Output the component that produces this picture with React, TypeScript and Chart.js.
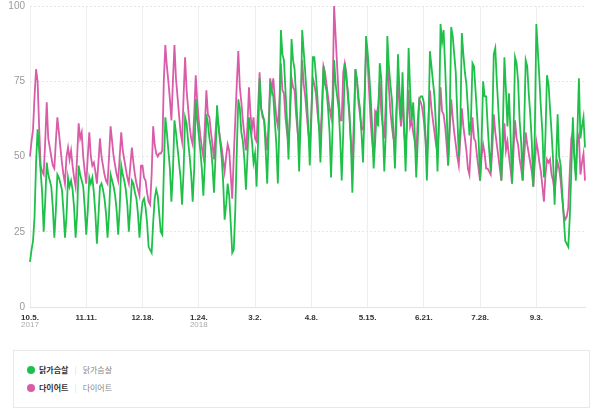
import React, { useEffect, useRef } from "react";
import { Chart, registerables } from "chart.js";

Chart.register(...registerables);

// x-axis tick labels (one every 37 days, starting 2017-10-05)
const tickLabels = ["10.5.", "11.11.", "12.18.", "1.24.", "3.2.", "4.8.", "5.15.", "6.21.", "7.28.", "9.3."];
const tickYears = ["2017", "", "", "2018", "", "", "", "", "", ""];
const tickStep = 37;
const yTicks = [0, 25, 50, 75, 100];

const seriesNames = ["닭가슴살", "다이어트"];
const seriesColors = ["#1fc04a", "#d85ca7"];

// 닭가슴살 — daily values, 2017-10-05 .. 2018-10-05
const chickenBreast = [
  15, 19, 22, 30,
  48, 59, 52, 45, 38, 25, 35,
  48, 44, 42, 40, 33, 23, 32,
  44, 43, 41, 39, 32, 23, 30,
  43, 40, 42, 39, 33, 23, 31,
  47, 44, 42, 40, 33, 24, 32,
  43, 41, 43, 38, 31, 21, 30,
  40, 41, 39, 36, 31, 23, 31,
  44, 42, 40, 37, 32, 24, 33,
  47, 44, 42, 39, 34, 25, 33,
  42, 41, 38, 36, 31, 23, 30,
  35, 36, 33, 28, 20, 19, 18,
  28, 36, 39, 37, 31, 25, 24,
  45, 63, 58, 52, 46, 35, 45,
  62, 58, 53, 48, 43, 34, 45,
  63, 61, 55, 50, 44, 35, 46,
  69, 62, 57, 52, 46, 37, 48,
  64, 61, 56, 53, 47, 38, 50,
  67, 60, 55, 50, 42, 29, 34,
  41, 37, 28, 18, 19, 32, 52,
  69, 66, 58, 55, 49, 39, 50,
  63, 59, 55, 48, 51, 40, 55,
  76, 66, 64, 62, 52, 41, 58,
  74, 72, 70, 62, 54, 41, 60,
  92, 84, 82, 72, 62, 49, 65,
  89, 82, 79, 70, 60, 45, 62,
  92, 85, 78, 70, 60, 47, 62,
  83, 83, 77, 70, 60, 48, 63,
  80, 74, 72, 66, 58, 43, 60,
  82, 74, 70, 66, 56, 42, 58,
  81, 76, 72, 65, 55, 38, 55,
  79, 76, 70, 66, 58, 48, 65,
  90, 85, 78, 70, 60, 46, 55,
  65, 60, 81, 76, 60, 45, 58,
  90, 80, 74, 69, 58, 46, 62,
  84, 72, 62, 78, 60, 45, 62,
  86, 72, 62, 68, 58, 43, 55,
  69, 70, 70, 68, 58, 42, 58,
  85, 80, 75, 70, 60, 45, 62,
  94, 88, 92, 80, 66, 47, 62,
  93, 90, 84, 78, 64, 50, 60,
  91, 84, 78, 74, 66, 57, 62,
  81, 80, 72, 64, 56, 42, 55,
  75, 70, 70, 60, 52, 45, 60,
  84, 86, 75, 66, 57, 42, 60,
  83, 72, 60, 71, 58, 41, 58,
  83, 81, 75, 62, 55, 42, 60,
  82, 80, 71, 64, 55, 40, 58,
  94, 85, 76, 66, 58, 43, 57,
  77, 74, 66, 58, 49, 34, 48,
  64, 50, 47, 38, 30, 22, 21,
  20, 30, 45, 63, 50, 42, 58,
  76, 56, 60, 63, 53,
];

// 다이어트 — daily values, 2017-10-05 .. 2018-10-05
const diet = [
  50, 55, 59, 70,
  79, 75, 60, 47, 45, 44, 55,
  68, 56, 53, 50, 47, 46, 55,
  63, 58, 53, 48, 44, 41, 50,
  53, 49, 52, 47, 43, 40, 50,
  61, 56, 58, 50, 45, 41, 50,
  58, 50, 47, 48, 45, 41, 48,
  56, 50, 47, 44, 42, 41, 50,
  60, 55, 50, 47, 44, 42, 50,
  58, 52, 49, 46, 43, 41, 47,
  53, 48, 44, 41, 39, 37, 47,
  47, 43, 42, 38, 35, 34, 44,
  60, 54, 51, 50, 51, 51, 52,
  75, 87, 80, 75, 69, 62, 75,
  87, 76, 70, 64, 58, 55, 70,
  83, 72, 66, 60, 56, 54, 64,
  77, 68, 62, 57, 53, 50, 60,
  72, 64, 63, 58, 54, 49, 58,
  64, 60, 56, 53, 49, 45, 50,
  54, 52, 44, 36, 50, 62, 74,
  85, 73, 68, 62, 57, 52, 60,
  73, 64, 59, 63, 56, 55, 66,
  78, 66, 63, 62, 57, 52, 62,
  76, 72, 76, 69, 63, 60, 68,
  81, 72, 71, 63, 58, 54, 64,
  76, 73, 72, 64, 58, 54, 66,
  82, 74, 70, 64, 58, 54, 64,
  76, 74, 71, 65, 60, 57, 66,
  80, 78, 74, 70, 66, 63, 70,
  100, 90, 80, 70, 62, 62, 78,
  81, 78, 70, 64, 55, 48, 62,
  79, 75, 68, 64, 59, 59, 70,
  85, 82, 72, 62, 55, 50, 65,
  64, 67, 75, 65, 60, 56, 68,
  82, 73, 65, 60, 56, 55, 66,
  76, 66, 60, 70, 58, 53, 62,
  72, 60, 62, 58, 55, 51, 62,
  69, 68, 66, 62, 56, 50, 62,
  72, 66, 62, 58, 54, 51, 62,
  73, 65, 64, 60, 54, 47, 58,
  69, 63, 58, 54, 50, 47, 56,
  66, 60, 56, 52, 46, 44, 55,
  63, 56, 55, 50, 46, 42, 50,
  54, 51, 46, 46, 45, 44, 52,
  64, 58, 54, 50, 46, 42, 52,
  61, 52, 55, 50, 46, 41, 52,
  62, 56, 54, 49, 46, 42, 50,
  58, 54, 51, 48, 45, 40, 48,
  55, 52, 48, 45, 40, 35, 44,
  49, 48, 49, 44, 42, 38, 44,
  48, 46, 42, 36, 31, 29, 30,
  33, 45, 56, 58, 50, 44, 55,
  57, 44, 48, 51, 42,
];

const FONT = "'Liberation Sans', Arial, sans-serif";
const KFONT = "'Noto Sans CJK KR', 'Noto Sans', sans-serif";

const yearPlugin = {
  id: "yearLabels",
  afterDraw(chart: any) {
    const xs = chart.scales.x;
    const ctx = chart.ctx;
    ctx.save();
    ctx.font = `8px ${FONT}`;
    ctx.fillStyle = "#aaaaaa";
    ctx.textAlign = "center";
    ctx.textBaseline = "middle";
    tickYears.forEach((yr, i) => {
      if (!yr) return;
      const px = xs.getPixelForValue(i * tickStep);
      ctx.fillText(yr, px, 325);
    });
    ctx.restore();
  },
};

export default function App() {
  const ref = useRef<HTMLCanvasElement | null>(null);

  useEffect(() => {
    if (!ref.current) return;
    const labels = chickenBreast.map((_, i) => String(i));
    const chart = new Chart(ref.current, {
      type: "line",
      data: {
        labels,
        datasets: [
          {
            label: seriesNames[0],
            data: chickenBreast,
            borderColor: seriesColors[0],
            backgroundColor: seriesColors[0],
            borderWidth: 1.8,
            pointRadius: 0,
            tension: 0,
            fill: false,
          },
          {
            label: seriesNames[1],
            data: diet,
            borderColor: seriesColors[1],
            backgroundColor: seriesColors[1],
            borderWidth: 1.8,
            pointRadius: 0,
            tension: 0,
            fill: false,
          },
        ],
      },
      options: {
        responsive: false,
        animation: false,
        layout: { padding: { top: 0, right: 15, left: 0, bottom: 0 } },
        plugins: { legend: { display: false }, tooltip: { enabled: false } },
        scales: {
          x: {
            type: "category",
            afterFit: (s: any) => {
              s.height = 28;
            },
            grid: { color: "#eeeeee", lineWidth: 1, drawTicks: false },
            border: { color: "#e2e2e2" },
            ticks: {
              autoSkip: false,
              maxRotation: 0,
              padding: 6,
              color: "#333333",
              font: { family: FONT, size: 8, weight: "bold" },
              callback: (_v: any, i: number) => (i % tickStep === 0 ? tickLabels[i / tickStep] : null),
            },
          },
          y: {
            min: 0,
            max: 100,
            afterFit: (s: any) => {
              s.width = 30;
              s.paddingTop = 6;
              s.paddingBottom = 0;
            },
            afterBuildTicks: (s: any) => {
              s.ticks = yTicks.map((v) => ({ value: v }));
            },
            grid: { color: "#e6e6e6", drawTicks: false },
            border: { display: false, dash: [2, 2] },
            ticks: {
              padding: 5,
              color: "#999999",
              font: { family: FONT, size: 10 },
            },
          },
        },
      },
      plugins: [yearPlugin],
    });
    return () => chart.destroy();
  }, []);

  const legendRow = (i: number, top: number) => (
    <div
      key={i}
      style={{
        position: "absolute",
        left: 13,
        top,
        display: "flex",
        alignItems: "center",
        fontFamily: KFONT,
        fontSize: 8,
        lineHeight: "10px",
        whiteSpace: "nowrap",
      }}
    >
      <span
        style={{
          display: "inline-block",
          width: 8,
          height: 8,
          borderRadius: 4,
          background: seriesColors[i],
          marginRight: 4,
        }}
      />
      <span style={{ color: "#333", fontWeight: 700 }}>{seriesNames[i]}</span>
      <span style={{ color: "#ddd", margin: "0 6px" }}>|</span>
      <span style={{ color: "#888" }}>{seriesNames[i]}</span>
    </div>
  );

  return (
    <div style={{ position: "absolute", left: 0, top: 0, width: 600, height: 412, background: "#fff" }}>
      <canvas ref={ref} width={600} height={335} style={{ position: "absolute", left: 0, top: 0 }} />
      <div
        style={{
          position: "absolute",
          left: 13,
          top: 350,
          width: 577,
          height: 58,
          border: "1px solid #e8e8e8",
          boxSizing: "border-box",
        }}
      >
        {legendRow(0, 14)}
        {legendRow(1, 32)}
      </div>
    </div>
  );
}
